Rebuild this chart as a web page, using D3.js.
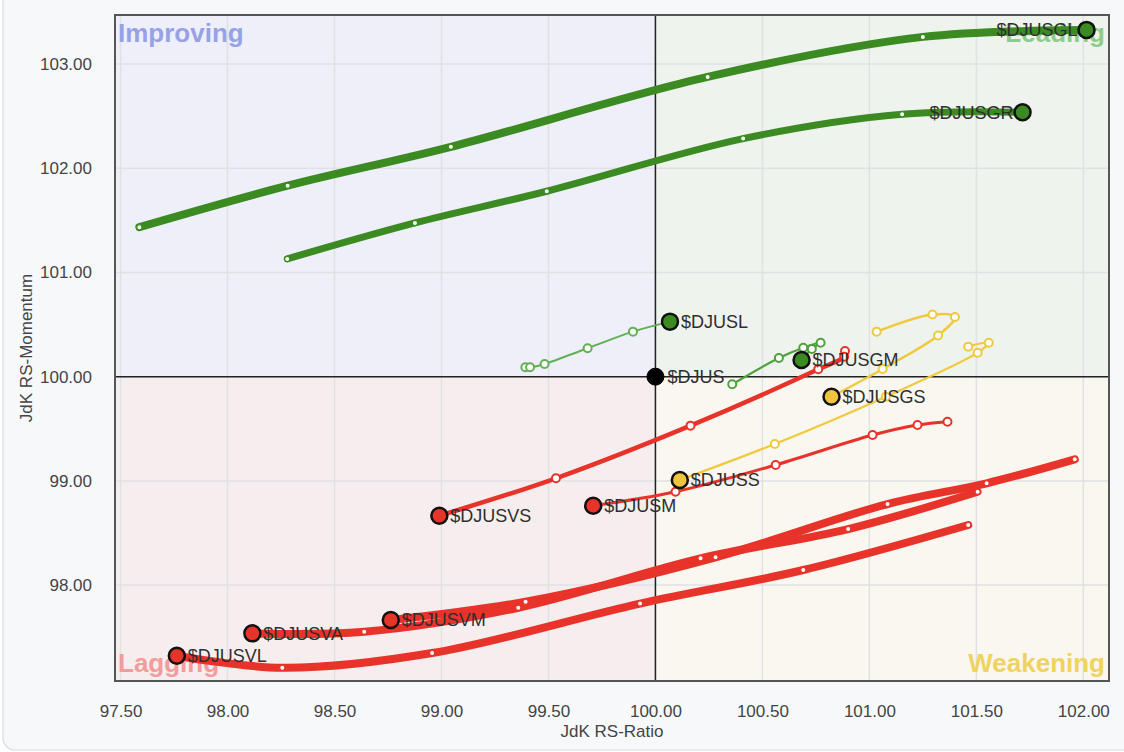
<!DOCTYPE html>
<html><head><meta charset="utf-8">
<script src="https://cdn.jsdelivr.net/npm/d3@7"></script>
<style>
html,body{margin:0;padding:0;background:#ffffff;}
svg{display:block;font-family:"Liberation Sans",Arial,sans-serif;}
</style></head><body>
<svg id="chart" width="1124" height="752"></svg>
<script>
// ---------- DATA ----------
const xTicks = [97.5, 98.0, 98.5, 99.0, 99.5, 100.0, 100.5, 101.0, 101.5, 102.0];
const yTicks = [98, 99, 100, 101, 102, 103];
const xTitle = "JdK RS-Ratio";
const yTitle = "JdK RS-Momentum";
const quadrantNames = ["Improving", "Leading", "Lagging", "Weakening"];

// tails: oldest point first, last point = current (head); [RS-Ratio, RS-Momentum]
const tailDJUSGL = [[97.588,101.434],[98.281,101.832],[99.044,102.205],[100.244,102.876],[101.250,103.260],[102.015,103.327]];
const tailDJUSGR = [[98.279,101.130],[98.876,101.475],[99.492,101.779],[100.410,102.284],[101.153,102.518],[101.716,102.537]];
const tailDJUSL  = [[99.392,100.090],[99.414,100.090],[99.482,100.122],[99.683,100.273],[99.895,100.432],[100.068,100.528]];
const tailDJUSGM = [[100.359,99.927],[100.577,100.179],[100.691,100.278],[100.772,100.326],[100.731,100.266],[100.683,100.160]];
const tailDJUSGS = [[101.034,100.432],[101.295,100.597],[101.400,100.573],[101.321,100.395],[101.062,100.074],[100.823,99.808]];
const tailDJUSS  = [[101.462,100.288],[101.558,100.326],[101.506,100.230],[101.077,99.808],[100.558,99.354],[100.114,99.009]];
const tailDJUSM  = [[101.365,99.568],[101.225,99.536],[101.015,99.440],[100.562,99.153],[100.094,98.896],[99.709,98.762]];
const tailDJUSVS = [[100.886,100.247],[100.882,100.192],[100.761,100.071],[100.164,99.530],[99.535,99.025],[98.990,98.666]];
const tailDJUSVM = [[101.960,99.207],[101.548,98.977],[101.085,98.778],[100.281,98.267],[99.393,97.841],[98.763,97.665]];
const tailDJUSVA = [[101.506,98.896],[100.901,98.538],[100.211,98.257],[99.359,97.783],[98.639,97.553],[98.116,97.537]];
const tailDJUSVL = [[101.462,98.577],[100.691,98.145],[99.928,97.823],[98.956,97.348],[98.256,97.207],[97.763,97.322]];
const benchmark  = [100.0, 100.0];
const benchmarkName = "$DJUS";

const seriesNames = ["$DJUSGL","$DJUSGR","$DJUSL","$DJUSGM","$DJUSGS","$DJUSS","$DJUSM","$DJUSVS","$DJUSVM","$DJUSVA","$DJUSVL"];
const seriesTails = [tailDJUSGL,tailDJUSGR,tailDJUSL,tailDJUSGM,tailDJUSGS,tailDJUSS,tailDJUSM,tailDJUSVS,tailDJUSVM,tailDJUSVA,tailDJUSVL];

// ---------- STYLES ----------
const GREEN = "#3b8a22", GREEN_L = "#62b055", GREEN_M = "#4ea23e", RED = "#e8332a", YEL = "#f0c93c";
const styles = {
  "$DJUSGL": {line: GREEN,   head: GREEN,  w: 8,   side: "left"},
  "$DJUSGR": {line: GREEN,   head: GREEN,  w: 7,   side: "left"},
  "$DJUSL":  {line: GREEN_L, head: GREEN,  w: 2,   side: "right"},
  "$DJUSGM": {line: GREEN_M, head: GREEN,  w: 2.2, side: "right"},
  "$DJUSGS": {line: YEL,     head: "#f0c43e", w: 2.4, side: "right"},
  "$DJUSS":  {line: YEL,     head: "#f0c43e", w: 2.2, side: "right"},
  "$DJUSM":  {line: RED,     head: RED,    w: 3,   side: "right"},
  "$DJUSVS": {line: RED,     head: RED,    w: 4.5, side: "right"},
  "$DJUSVM": {line: RED,     head: RED,    w: 8,   side: "right"},
  "$DJUSVA": {line: RED,     head: RED,    w: 8,   side: "right"},
  "$DJUSVL": {line: RED,     head: RED,    w: 8,   side: "right"}
};

// ---------- CHART ----------
const svg = d3.select("#chart");
const L = 115, R = 1109, T = 15, B = 681;
const x = d3.scaleLinear().domain([97.474, 102.12]).range([L, R]);
const y = d3.scaleLinear().domain([97.08, 103.47]).range([B, T]);

// card background
svg.append("rect").attr("x", 3).attr("y", -20).attr("width", 1150).attr("height", 770)
  .attr("rx", 12).attr("fill", "#f7f8fa").attr("stroke", "#d9dadd").attr("stroke-width", 1.2);

// quadrants
const cx = x(100), cy = y(100);
const quadFill = ["#eeeff8", "#eef3ee", "#f6eeee", "#f9f7ef"];
const quads = [[L, T, cx - L, cy - T], [cx, T, R - cx, cy - T], [L, cy, cx - L, B - cy], [cx, cy, R - cx, B - cy]];
svg.selectAll("rect.q").data(quads).join("rect").attr("class", "q")
  .attr("x", d => d[0]).attr("y", d => d[1]).attr("width", d => d[2]).attr("height", d => d[3])
  .attr("fill", (d, i) => quadFill[i]);

// grid
const grid = svg.append("g");
grid.selectAll("line.gx").data(xTicks).join("line").attr("class", "gx")
  .attr("x1", d => x(d)).attr("x2", d => x(d)).attr("y1", T).attr("y2", B)
  .attr("stroke", "#e1e1e3").attr("stroke-width", 1.5);
grid.selectAll("line.gy").data(yTicks).join("line").attr("class", "gy")
  .attr("y1", d => y(d)).attr("y2", d => y(d)).attr("x1", L).attr("x2", R)
  .attr("stroke", "#e1e1e3").attr("stroke-width", 1.5);

// quadrant labels
const qLab = [
  {t: quadrantNames[0], x: L + 3, y: T + 27, a: "start", c: "#97a2e6"},
  {t: quadrantNames[1], x: R - 4, y: T + 27, a: "end", c: "#8fcc8a"},
  {t: quadrantNames[2], x: L + 3, y: B - 9, a: "start", c: "#f29c9c"},
  {t: quadrantNames[3], x: R - 4, y: B - 9, a: "end", c: "#f0d35e"}
];
svg.selectAll("text.ql").data(qLab).join("text").attr("class", "ql")
  .attr("x", d => d.x).attr("y", d => d.y).attr("text-anchor", d => d.a)
  .attr("fill", d => d.c).attr("font-size", 26).attr("font-weight", "bold").text(d => d.t);

// center lines
svg.append("line").attr("x1", cx).attr("x2", cx).attr("y1", T).attr("y2", B).attr("stroke", "#222").attr("stroke-width", 1.5);
svg.append("line").attr("x1", L).attr("x2", R).attr("y1", cy).attr("y2", cy).attr("stroke", "#222").attr("stroke-width", 1.5);

// plot border
svg.append("rect").attr("x", L).attr("y", T).attr("width", R - L).attr("height", B - T)
  .attr("fill", "none").attr("stroke", "#555").attr("stroke-width", 2);

// axes
const fmt = d3.format(".2f");
const xAxis = svg.append("g").attr("transform", `translate(0,${B})`)
  .call(d3.axisBottom(x).tickValues(xTicks).tickFormat(fmt).tickSize(0).tickPadding(24));
const yAxis = svg.append("g").attr("transform", `translate(${L},0)`)
  .call(d3.axisLeft(y).tickValues(yTicks).tickFormat(fmt).tickSize(0).tickPadding(23));
[xAxis, yAxis].forEach(g => {
  g.select(".domain").remove();
  g.selectAll("text").attr("font-size", 17).attr("fill", "#444").attr("font-family", "Liberation Sans, Arial, sans-serif");
});

svg.append("text").attr("x", (L + R) / 2).attr("y", 737).attr("text-anchor", "middle")
  .attr("font-size", 17).attr("fill", "#444").text(xTitle);
svg.append("text").attr("transform", `translate(32,${(T + B) / 2}) rotate(-90)`).attr("text-anchor", "middle")
  .attr("font-size", 17).attr("fill", "#444").text(yTitle);

// series
const line = d3.line().x(d => x(d[0])).y(d => y(d[1])).curve(d3.curveCatmullRom.alpha(0.5));
const sg = svg.append("g");
seriesNames.forEach((name, i) => {
  const st = styles[name], pts = seriesTails[i];
  sg.append("path").attr("d", line(pts)).attr("fill", "none").attr("stroke", st.line)
    .attr("stroke-width", st.w).attr("stroke-linecap", "round").attr("stroke-linejoin", "round");
});
seriesNames.forEach((name, i) => {
  const st = styles[name], pts = seriesTails[i].slice(0, -1);
  const thick = st.w >= 5;
  sg.selectAll(null).data(pts).join("circle")
    .attr("cx", d => x(d[0])).attr("cy", d => y(d[1]))
    .attr("r", thick ? 2.6 : 4).attr("fill", "#fff")
    .attr("stroke", st.line).attr("stroke-width", thick ? 1.2 : 2);
});
// labels
const lg = svg.append("g");
seriesNames.forEach((name, i) => {
  const st = styles[name], h = seriesTails[i][seriesTails[i].length - 1];
  lg.append("text").attr("x", x(h[0]) + (st.side === "left" ? -9 : 11)).attr("y", y(h[1]))
    .attr("dy", "0.35em").attr("text-anchor", st.side === "left" ? "end" : "start")
    .attr("font-size", 18).attr("fill", "#2e2e2e").text(name);
});
lg.append("text").attr("x", x(benchmark[0]) + 12).attr("y", y(benchmark[1])).attr("dy", "0.35em")
  .attr("font-size", 18).attr("fill", "#2e2e2e").text(benchmarkName);
// heads
seriesNames.forEach((name, i) => {
  const st = styles[name], h = seriesTails[i][seriesTails[i].length - 1];
  sg.append("circle").attr("cx", x(h[0])).attr("cy", y(h[1])).attr("r", 8)
    .attr("fill", st.head).attr("stroke", "#111").attr("stroke-width", 2.5);
});
svg.append("circle").attr("cx", x(benchmark[0])).attr("cy", y(benchmark[1])).attr("r", 8.5)
  .attr("fill", "#000").attr("stroke", "#000").attr("stroke-width", 1);
</script>
</body></html>
